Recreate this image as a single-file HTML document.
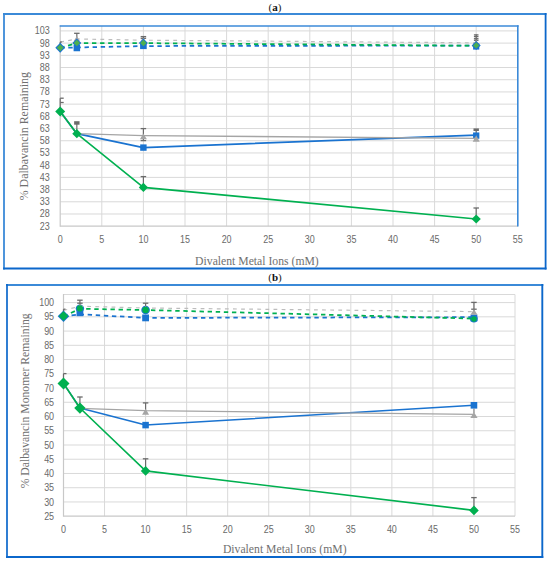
<!DOCTYPE html><html><head><meta charset="utf-8"><title>Dalbavancin chart</title><style>html,body{margin:0;padding:0;background:#fff;width:550px;height:561px;overflow:hidden}svg{display:block}</style></head><body>
<svg width="550" height="561" viewBox="0 0 550 561">
<rect width="550" height="561" fill="#fff"/>
<text x="275" y="10.6" text-anchor="middle" font-family="Liberation Serif" font-weight="bold" font-size="11" fill="#111"><tspan font-weight="normal" fill="#222">(</tspan>a<tspan font-weight="normal" fill="#222">)</tspan></text>
<line x1="3" y1="14" x2="546.5" y2="14" stroke="#3b8ad8" stroke-width="1.8"/>
<line x1="4" y1="13.1" x2="4" y2="269.4" stroke="#3b8ad8" stroke-width="1.8"/>
<line x1="545.6" y1="13.1" x2="545.6" y2="269.4" stroke="#0b67cb" stroke-width="1.8"/>
<line x1="3.1" y1="268.5" x2="546.5" y2="268.5" stroke="#0b67cb" stroke-width="1.8"/>
<line x1="60.2" y1="213.99" x2="517.8" y2="213.99" stroke="#d9d9d9" stroke-width="1"/>
<line x1="60.2" y1="201.79" x2="517.8" y2="201.79" stroke="#d9d9d9" stroke-width="1"/>
<line x1="60.2" y1="189.58" x2="517.8" y2="189.58" stroke="#d9d9d9" stroke-width="1"/>
<line x1="60.2" y1="177.38" x2="517.8" y2="177.38" stroke="#d9d9d9" stroke-width="1"/>
<line x1="60.2" y1="165.17" x2="517.8" y2="165.17" stroke="#d9d9d9" stroke-width="1"/>
<line x1="60.2" y1="152.96" x2="517.8" y2="152.96" stroke="#d9d9d9" stroke-width="1"/>
<line x1="60.2" y1="140.76" x2="517.8" y2="140.76" stroke="#d9d9d9" stroke-width="1"/>
<line x1="60.2" y1="128.55" x2="517.8" y2="128.55" stroke="#d9d9d9" stroke-width="1"/>
<line x1="60.2" y1="116.34" x2="517.8" y2="116.34" stroke="#d9d9d9" stroke-width="1"/>
<line x1="60.2" y1="104.14" x2="517.8" y2="104.14" stroke="#d9d9d9" stroke-width="1"/>
<line x1="60.2" y1="91.93" x2="517.8" y2="91.93" stroke="#d9d9d9" stroke-width="1"/>
<line x1="60.2" y1="79.73" x2="517.8" y2="79.73" stroke="#d9d9d9" stroke-width="1"/>
<line x1="60.2" y1="67.52" x2="517.8" y2="67.52" stroke="#d9d9d9" stroke-width="1"/>
<line x1="60.2" y1="55.31" x2="517.8" y2="55.31" stroke="#d9d9d9" stroke-width="1"/>
<line x1="60.2" y1="43.11" x2="517.8" y2="43.11" stroke="#d9d9d9" stroke-width="1"/>
<line x1="60.2" y1="30.90" x2="517.8" y2="30.90" stroke="#d9d9d9" stroke-width="1"/>
<line x1="101.80" y1="26" x2="101.80" y2="226.2" stroke="#d9d9d9" stroke-width="1"/>
<line x1="143.40" y1="26" x2="143.40" y2="226.2" stroke="#d9d9d9" stroke-width="1"/>
<line x1="185.00" y1="26" x2="185.00" y2="226.2" stroke="#d9d9d9" stroke-width="1"/>
<line x1="226.60" y1="26" x2="226.60" y2="226.2" stroke="#d9d9d9" stroke-width="1"/>
<line x1="268.20" y1="26" x2="268.20" y2="226.2" stroke="#d9d9d9" stroke-width="1"/>
<line x1="309.80" y1="26" x2="309.80" y2="226.2" stroke="#d9d9d9" stroke-width="1"/>
<line x1="351.40" y1="26" x2="351.40" y2="226.2" stroke="#d9d9d9" stroke-width="1"/>
<line x1="393.00" y1="26" x2="393.00" y2="226.2" stroke="#d9d9d9" stroke-width="1"/>
<line x1="434.60" y1="26" x2="434.60" y2="226.2" stroke="#d9d9d9" stroke-width="1"/>
<line x1="476.20" y1="26" x2="476.20" y2="226.2" stroke="#d9d9d9" stroke-width="1"/>
<line x1="60.2" y1="25.5" x2="60.2" y2="226.7" stroke="#c8c8c8" stroke-width="1.2"/>
<line x1="60.2" y1="226.2" x2="517.8" y2="226.2" stroke="#c8c8c8" stroke-width="1.2"/>
<line x1="59.7" y1="26" x2="518.5999999999999" y2="26" stroke="#3b8ad8" stroke-width="1.7"/>
<line x1="517.8" y1="25.2" x2="517.8" y2="226.39999999999998" stroke="#3b8ad8" stroke-width="1.6"/>
<text transform="translate(49.7,229.60) scale(0.87,1)" text-anchor="end" font-family="Liberation Sans" font-size="10.3" fill="#6a6a6a">23</text>
<text transform="translate(49.7,217.39) scale(0.87,1)" text-anchor="end" font-family="Liberation Sans" font-size="10.3" fill="#6a6a6a">28</text>
<text transform="translate(49.7,205.19) scale(0.87,1)" text-anchor="end" font-family="Liberation Sans" font-size="10.3" fill="#6a6a6a">33</text>
<text transform="translate(49.7,192.98) scale(0.87,1)" text-anchor="end" font-family="Liberation Sans" font-size="10.3" fill="#6a6a6a">38</text>
<text transform="translate(49.7,180.78) scale(0.87,1)" text-anchor="end" font-family="Liberation Sans" font-size="10.3" fill="#6a6a6a">43</text>
<text transform="translate(49.7,168.57) scale(0.87,1)" text-anchor="end" font-family="Liberation Sans" font-size="10.3" fill="#6a6a6a">48</text>
<text transform="translate(49.7,156.36) scale(0.87,1)" text-anchor="end" font-family="Liberation Sans" font-size="10.3" fill="#6a6a6a">53</text>
<text transform="translate(49.7,144.16) scale(0.87,1)" text-anchor="end" font-family="Liberation Sans" font-size="10.3" fill="#6a6a6a">58</text>
<text transform="translate(49.7,131.95) scale(0.87,1)" text-anchor="end" font-family="Liberation Sans" font-size="10.3" fill="#6a6a6a">63</text>
<text transform="translate(49.7,119.74) scale(0.87,1)" text-anchor="end" font-family="Liberation Sans" font-size="10.3" fill="#6a6a6a">68</text>
<text transform="translate(49.7,107.54) scale(0.87,1)" text-anchor="end" font-family="Liberation Sans" font-size="10.3" fill="#6a6a6a">73</text>
<text transform="translate(49.7,95.33) scale(0.87,1)" text-anchor="end" font-family="Liberation Sans" font-size="10.3" fill="#6a6a6a">78</text>
<text transform="translate(49.7,83.13) scale(0.87,1)" text-anchor="end" font-family="Liberation Sans" font-size="10.3" fill="#6a6a6a">83</text>
<text transform="translate(49.7,70.92) scale(0.87,1)" text-anchor="end" font-family="Liberation Sans" font-size="10.3" fill="#6a6a6a">88</text>
<text transform="translate(49.7,58.71) scale(0.87,1)" text-anchor="end" font-family="Liberation Sans" font-size="10.3" fill="#6a6a6a">93</text>
<text transform="translate(49.7,46.51) scale(0.87,1)" text-anchor="end" font-family="Liberation Sans" font-size="10.3" fill="#6a6a6a">98</text>
<text transform="translate(49.7,34.30) scale(0.87,1)" text-anchor="end" font-family="Liberation Sans" font-size="10.3" fill="#6a6a6a">103</text>
<text transform="translate(60.20,242.6) scale(0.87,1)" text-anchor="middle" font-family="Liberation Sans" font-size="10.3" fill="#6a6a6a">0</text>
<text transform="translate(101.80,242.6) scale(0.87,1)" text-anchor="middle" font-family="Liberation Sans" font-size="10.3" fill="#6a6a6a">5</text>
<text transform="translate(143.40,242.6) scale(0.87,1)" text-anchor="middle" font-family="Liberation Sans" font-size="10.3" fill="#6a6a6a">10</text>
<text transform="translate(185.00,242.6) scale(0.87,1)" text-anchor="middle" font-family="Liberation Sans" font-size="10.3" fill="#6a6a6a">15</text>
<text transform="translate(226.60,242.6) scale(0.87,1)" text-anchor="middle" font-family="Liberation Sans" font-size="10.3" fill="#6a6a6a">20</text>
<text transform="translate(268.20,242.6) scale(0.87,1)" text-anchor="middle" font-family="Liberation Sans" font-size="10.3" fill="#6a6a6a">25</text>
<text transform="translate(309.80,242.6) scale(0.87,1)" text-anchor="middle" font-family="Liberation Sans" font-size="10.3" fill="#6a6a6a">30</text>
<text transform="translate(351.40,242.6) scale(0.87,1)" text-anchor="middle" font-family="Liberation Sans" font-size="10.3" fill="#6a6a6a">35</text>
<text transform="translate(393.00,242.6) scale(0.87,1)" text-anchor="middle" font-family="Liberation Sans" font-size="10.3" fill="#6a6a6a">40</text>
<text transform="translate(434.60,242.6) scale(0.87,1)" text-anchor="middle" font-family="Liberation Sans" font-size="10.3" fill="#6a6a6a">45</text>
<text transform="translate(476.20,242.6) scale(0.87,1)" text-anchor="middle" font-family="Liberation Sans" font-size="10.3" fill="#6a6a6a">50</text>
<text transform="translate(517.80,242.6) scale(0.87,1)" text-anchor="middle" font-family="Liberation Sans" font-size="10.3" fill="#6a6a6a">55</text>
<text x="195.1" y="264.6" font-family="Liberation Serif" font-size="11.7" fill="#707070">Divalent Metal Ions (mM)</text>
<text transform="translate(27.7,136.2) rotate(-90)" text-anchor="middle" font-family="Liberation Serif" font-size="11.9" fill="#707070">% Dalbavancin Remaining</text>
<polyline points="60.20,47.74 76.84,47.50 143.40,46.04 476.20,45.55" fill="none" stroke="#1a73d0" stroke-width="1.75" stroke-linejoin="round" stroke-dasharray="4.4,3.7"/>
<rect x="73.59" y="44.75" width="6.5" height="6.5" fill="#1a73d0"/>
<rect x="140.10" y="42.50" width="6.6" height="6.6" fill="#1a73d0"/>
<rect x="473.10" y="43.40" width="6.2" height="6.2" fill="#1a73d0"/>
<polyline points="60.20,42.13 76.84,38.96 143.40,40.18 476.20,42.86" fill="none" stroke="#bdbdbd" stroke-width="1.2" stroke-linejoin="round" stroke-dasharray="3.8,4.3"/>
<line x1="60.20" y1="42" x2="60.20" y2="45" stroke="#6b6b6b" stroke-width="1.2"/>
<line x1="60.20" y1="42" x2="61.70" y2="42" stroke="#6b6b6b" stroke-width="1.3"/>
<line x1="76.84" y1="33.3" x2="76.84" y2="40" stroke="#6b6b6b" stroke-width="1.2"/>
<line x1="74.09" y1="33.3" x2="79.59" y2="33.3" stroke="#6b6b6b" stroke-width="1.3"/>
<line x1="143.40" y1="36.6" x2="143.40" y2="41" stroke="#6b6b6b" stroke-width="1.2"/>
<line x1="140.65" y1="36.6" x2="146.15" y2="36.6" stroke="#6b6b6b" stroke-width="1.3"/>
<line x1="140.65" y1="38.3" x2="146.15" y2="38.3" stroke="#6b6b6b" stroke-width="1.3"/>
<line x1="476.20" y1="34.5" x2="476.20" y2="42" stroke="#6b6b6b" stroke-width="1.2"/>
<line x1="473.90" y1="34.9" x2="478.50" y2="34.9" stroke="#6b6b6b" stroke-width="1.3"/>
<line x1="473.90" y1="36.6" x2="478.50" y2="36.6" stroke="#6b6b6b" stroke-width="1.3"/>
<line x1="473.90" y1="38.7" x2="478.50" y2="38.7" stroke="#6b6b6b" stroke-width="1.3"/>
<line x1="473.90" y1="40.3" x2="478.50" y2="40.3" stroke="#6b6b6b" stroke-width="1.3"/>
<polygon points="76.84,36.00 79.84,41.00 73.84,41.00" fill="#a5a5a5"/>
<polygon points="143.40,38.00 146.40,43.00 140.40,43.00" fill="#a5a5a5"/>
<polygon points="476.20,40.00 479.20,45.00 473.20,45.00" fill="#a5a5a5"/>
<polyline points="60.20,47.74 76.84,43.11 143.40,43.11 476.20,45.79" fill="none" stroke="#00b050" stroke-width="1.75" stroke-linejoin="round" stroke-dasharray="4.4,3.7"/>
<polygon points="60.20,42.84 65.10,47.74 60.20,52.64 55.30,47.74" fill="#1a73d0"/>
<polygon points="60.20,44.34 63.60,47.74 60.20,51.14 56.80,47.74" fill="#4caf50"/>
<polygon points="76.84,38.50 81.34,43.00 76.84,47.50 72.34,43.00" fill="#1a73d0"/>
<polygon points="76.84,39.80 80.04,43.00 76.84,46.20 73.64,43.00" fill="#4caf50"/>
<polygon points="143.40,38.50 147.90,43.00 143.40,47.50 138.90,43.00" fill="#1a73d0"/>
<polygon points="143.40,39.80 146.60,43.00 143.40,46.20 140.20,43.00" fill="#4caf50"/>
<polygon points="476.20,40.90 480.70,45.40 476.20,49.90 471.70,45.40" fill="#1a73d0"/>
<polygon points="476.20,42.20 479.40,45.40 476.20,48.60 473.00,45.40" fill="#4caf50"/>
<polyline points="60.20,111.46 76.84,133.68 143.40,147.59 476.20,135.14" fill="none" stroke="#1a73d0" stroke-width="1.7" stroke-linejoin="round"/>
<rect x="473.50" y="128.4" width="5.4" height="2.6" fill="#6b6b6b"/>
<line x1="476.20" y1="129" x2="476.20" y2="133" stroke="#6b6b6b" stroke-width="1.2"/>
<rect x="140.20" y="144.39" width="6.4" height="6.4" fill="#1a73d0"/>
<rect x="473.05" y="132.45" width="6.3" height="6.3" fill="#1a73d0"/>
<polyline points="60.20,111.46 76.84,133.60 143.40,135.60 476.20,138.30" fill="none" stroke="#a5a5a5" stroke-width="1.3" stroke-linejoin="round"/>
<rect x="74.14" y="121.2" width="5.4" height="3.5" fill="#6b6b6b"/>
<line x1="76.84" y1="122" x2="76.84" y2="131" stroke="#6b6b6b" stroke-width="1.2"/>
<line x1="143.40" y1="128.6" x2="143.40" y2="140.6" stroke="#6b6b6b" stroke-width="1.2"/>
<line x1="140.65" y1="128.6" x2="146.15" y2="128.6" stroke="#6b6b6b" stroke-width="1.3"/>
<line x1="140.65" y1="140.6" x2="146.15" y2="140.6" stroke="#6b6b6b" stroke-width="1.3"/>
<polygon points="143.40,133.40 146.90,139.20 139.90,139.20" fill="#a5a5a5"/>
<polygon points="476.20,135.30 479.70,141.70 472.70,141.70" fill="#a5a5a5"/>
<polyline points="60.20,111.46 76.84,133.68 143.40,187.38 476.20,219.00" fill="none" stroke="#00b050" stroke-width="1.6" stroke-linejoin="round"/>
<line x1="60.20" y1="98.2" x2="60.20" y2="108" stroke="#6b6b6b" stroke-width="1.2"/>
<line x1="60.20" y1="98.2" x2="63.70" y2="98.2" stroke="#6b6b6b" stroke-width="1.3"/>
<line x1="60.20" y1="102.5" x2="63.70" y2="102.5" stroke="#6b6b6b" stroke-width="1.3"/>
<line x1="143.40" y1="176.6" x2="143.40" y2="184" stroke="#6b6b6b" stroke-width="1.2"/>
<line x1="140.65" y1="176.6" x2="146.15" y2="176.6" stroke="#6b6b6b" stroke-width="1.3"/>
<line x1="476.20" y1="208" x2="476.20" y2="216" stroke="#6b6b6b" stroke-width="1.2"/>
<line x1="473.45" y1="208" x2="478.95" y2="208" stroke="#6b6b6b" stroke-width="1.3"/>
<polygon points="60.20,106.46 65.20,111.46 60.20,116.46 55.20,111.46" fill="#00b050"/>
<polygon points="76.84,129.08 81.44,133.68 76.84,138.28 72.24,133.68" fill="#00b050"/>
<polygon points="143.40,182.78 148.00,187.38 143.40,191.98 138.80,187.38" fill="#00b050"/>
<polygon points="476.20,214.40 480.80,219.00 476.20,223.60 471.60,219.00" fill="#00b050"/>
<text x="275" y="280.9" text-anchor="middle" font-family="Liberation Serif" font-weight="bold" font-size="11" fill="#111"><tspan font-weight="normal" fill="#222">(</tspan>b<tspan font-weight="normal" fill="#222">)</tspan></text>
<line x1="6.1" y1="285" x2="543.3" y2="285" stroke="#3b8ad8" stroke-width="1.8"/>
<line x1="7" y1="284.1" x2="7" y2="557.9" stroke="#0b67cb" stroke-width="1.7"/>
<line x1="542.3" y1="284.1" x2="542.3" y2="557.9" stroke="#0b67cb" stroke-width="1.9"/>
<line x1="6.1" y1="557" x2="543.3" y2="557" stroke="#0b67cb" stroke-width="1.8"/>
<line x1="63.5" y1="501.96" x2="515.0" y2="501.96" stroke="#d9d9d9" stroke-width="1"/>
<line x1="63.5" y1="487.72" x2="515.0" y2="487.72" stroke="#d9d9d9" stroke-width="1"/>
<line x1="63.5" y1="473.48" x2="515.0" y2="473.48" stroke="#d9d9d9" stroke-width="1"/>
<line x1="63.5" y1="459.24" x2="515.0" y2="459.24" stroke="#d9d9d9" stroke-width="1"/>
<line x1="63.5" y1="445.00" x2="515.0" y2="445.00" stroke="#d9d9d9" stroke-width="1"/>
<line x1="63.5" y1="430.76" x2="515.0" y2="430.76" stroke="#d9d9d9" stroke-width="1"/>
<line x1="63.5" y1="416.52" x2="515.0" y2="416.52" stroke="#d9d9d9" stroke-width="1"/>
<line x1="63.5" y1="402.28" x2="515.0" y2="402.28" stroke="#d9d9d9" stroke-width="1"/>
<line x1="63.5" y1="388.04" x2="515.0" y2="388.04" stroke="#d9d9d9" stroke-width="1"/>
<line x1="63.5" y1="373.80" x2="515.0" y2="373.80" stroke="#d9d9d9" stroke-width="1"/>
<line x1="63.5" y1="359.56" x2="515.0" y2="359.56" stroke="#d9d9d9" stroke-width="1"/>
<line x1="63.5" y1="345.32" x2="515.0" y2="345.32" stroke="#d9d9d9" stroke-width="1"/>
<line x1="63.5" y1="331.08" x2="515.0" y2="331.08" stroke="#d9d9d9" stroke-width="1"/>
<line x1="63.5" y1="316.84" x2="515.0" y2="316.84" stroke="#d9d9d9" stroke-width="1"/>
<line x1="63.5" y1="302.60" x2="515.0" y2="302.60" stroke="#d9d9d9" stroke-width="1"/>
<line x1="63.5" y1="294.5" x2="515.0" y2="294.5" stroke="#d9d9d9" stroke-width="1"/>
<line x1="104.55" y1="294.5" x2="104.55" y2="516.2" stroke="#d9d9d9" stroke-width="1"/>
<line x1="145.59" y1="294.5" x2="145.59" y2="516.2" stroke="#d9d9d9" stroke-width="1"/>
<line x1="186.64" y1="294.5" x2="186.64" y2="516.2" stroke="#d9d9d9" stroke-width="1"/>
<line x1="227.68" y1="294.5" x2="227.68" y2="516.2" stroke="#d9d9d9" stroke-width="1"/>
<line x1="268.73" y1="294.5" x2="268.73" y2="516.2" stroke="#d9d9d9" stroke-width="1"/>
<line x1="309.77" y1="294.5" x2="309.77" y2="516.2" stroke="#d9d9d9" stroke-width="1"/>
<line x1="350.82" y1="294.5" x2="350.82" y2="516.2" stroke="#d9d9d9" stroke-width="1"/>
<line x1="391.86" y1="294.5" x2="391.86" y2="516.2" stroke="#d9d9d9" stroke-width="1"/>
<line x1="432.91" y1="294.5" x2="432.91" y2="516.2" stroke="#d9d9d9" stroke-width="1"/>
<line x1="473.95" y1="294.5" x2="473.95" y2="516.2" stroke="#d9d9d9" stroke-width="1"/>
<line x1="515.00" y1="294.5" x2="515.00" y2="516.2" stroke="#d9d9d9" stroke-width="1"/>
<line x1="63.5" y1="294" x2="63.5" y2="516.7" stroke="#c8c8c8" stroke-width="1.2"/>
<line x1="63.5" y1="516.2" x2="515.0" y2="516.2" stroke="#c8c8c8" stroke-width="1.2"/>
<text transform="translate(54.1,519.80) scale(0.87,1)" text-anchor="end" font-family="Liberation Sans" font-size="10.3" fill="#6a6a6a">25</text>
<text transform="translate(54.1,505.56) scale(0.87,1)" text-anchor="end" font-family="Liberation Sans" font-size="10.3" fill="#6a6a6a">30</text>
<text transform="translate(54.1,491.32) scale(0.87,1)" text-anchor="end" font-family="Liberation Sans" font-size="10.3" fill="#6a6a6a">35</text>
<text transform="translate(54.1,477.08) scale(0.87,1)" text-anchor="end" font-family="Liberation Sans" font-size="10.3" fill="#6a6a6a">40</text>
<text transform="translate(54.1,462.84) scale(0.87,1)" text-anchor="end" font-family="Liberation Sans" font-size="10.3" fill="#6a6a6a">45</text>
<text transform="translate(54.1,448.60) scale(0.87,1)" text-anchor="end" font-family="Liberation Sans" font-size="10.3" fill="#6a6a6a">50</text>
<text transform="translate(54.1,434.36) scale(0.87,1)" text-anchor="end" font-family="Liberation Sans" font-size="10.3" fill="#6a6a6a">55</text>
<text transform="translate(54.1,420.12) scale(0.87,1)" text-anchor="end" font-family="Liberation Sans" font-size="10.3" fill="#6a6a6a">60</text>
<text transform="translate(54.1,405.88) scale(0.87,1)" text-anchor="end" font-family="Liberation Sans" font-size="10.3" fill="#6a6a6a">65</text>
<text transform="translate(54.1,391.64) scale(0.87,1)" text-anchor="end" font-family="Liberation Sans" font-size="10.3" fill="#6a6a6a">70</text>
<text transform="translate(54.1,377.40) scale(0.87,1)" text-anchor="end" font-family="Liberation Sans" font-size="10.3" fill="#6a6a6a">75</text>
<text transform="translate(54.1,363.16) scale(0.87,1)" text-anchor="end" font-family="Liberation Sans" font-size="10.3" fill="#6a6a6a">80</text>
<text transform="translate(54.1,348.92) scale(0.87,1)" text-anchor="end" font-family="Liberation Sans" font-size="10.3" fill="#6a6a6a">85</text>
<text transform="translate(54.1,334.68) scale(0.87,1)" text-anchor="end" font-family="Liberation Sans" font-size="10.3" fill="#6a6a6a">90</text>
<text transform="translate(54.1,320.44) scale(0.87,1)" text-anchor="end" font-family="Liberation Sans" font-size="10.3" fill="#6a6a6a">95</text>
<text transform="translate(54.1,306.20) scale(0.87,1)" text-anchor="end" font-family="Liberation Sans" font-size="10.3" fill="#6a6a6a">100</text>
<text transform="translate(63.50,533.1) scale(0.87,1)" text-anchor="middle" font-family="Liberation Sans" font-size="10.3" fill="#6a6a6a">0</text>
<text transform="translate(104.55,533.1) scale(0.87,1)" text-anchor="middle" font-family="Liberation Sans" font-size="10.3" fill="#6a6a6a">5</text>
<text transform="translate(145.59,533.1) scale(0.87,1)" text-anchor="middle" font-family="Liberation Sans" font-size="10.3" fill="#6a6a6a">10</text>
<text transform="translate(186.64,533.1) scale(0.87,1)" text-anchor="middle" font-family="Liberation Sans" font-size="10.3" fill="#6a6a6a">15</text>
<text transform="translate(227.68,533.1) scale(0.87,1)" text-anchor="middle" font-family="Liberation Sans" font-size="10.3" fill="#6a6a6a">20</text>
<text transform="translate(268.73,533.1) scale(0.87,1)" text-anchor="middle" font-family="Liberation Sans" font-size="10.3" fill="#6a6a6a">25</text>
<text transform="translate(309.77,533.1) scale(0.87,1)" text-anchor="middle" font-family="Liberation Sans" font-size="10.3" fill="#6a6a6a">30</text>
<text transform="translate(350.82,533.1) scale(0.87,1)" text-anchor="middle" font-family="Liberation Sans" font-size="10.3" fill="#6a6a6a">35</text>
<text transform="translate(391.86,533.1) scale(0.87,1)" text-anchor="middle" font-family="Liberation Sans" font-size="10.3" fill="#6a6a6a">40</text>
<text transform="translate(432.91,533.1) scale(0.87,1)" text-anchor="middle" font-family="Liberation Sans" font-size="10.3" fill="#6a6a6a">45</text>
<text transform="translate(473.95,533.1) scale(0.87,1)" text-anchor="middle" font-family="Liberation Sans" font-size="10.3" fill="#6a6a6a">50</text>
<text transform="translate(515.00,533.1) scale(0.87,1)" text-anchor="middle" font-family="Liberation Sans" font-size="10.3" fill="#6a6a6a">55</text>
<text x="222.9" y="552.6" font-family="Liberation Serif" font-size="11.7" fill="#707070">Divalent Metal Ions (mM)</text>
<text transform="translate(28.9,400.9) rotate(-90)" text-anchor="middle" font-family="Liberation Serif" font-size="11.7" fill="#707070">% Dalbavancin Monomer Remaining</text>
<polyline points="63.50,316.30 79.92,314.30 145.59,317.90 473.95,317.20" fill="none" stroke="#1a73d0" stroke-width="1.75" stroke-linejoin="round" stroke-dasharray="4.4,3.7"/>
<rect x="76.52" y="309.40" width="6.8" height="6.8" fill="#1a73d0"/>
<circle cx="79.92" cy="308.60" r="4.2" fill="#1a73d0"/>
<rect x="142.19" y="314.50" width="6.8" height="6.8" fill="#1a73d0"/>
<circle cx="145.59" cy="310.00" r="4.3" fill="#1a73d0"/>
<rect x="470.55" y="314.60" width="6.8" height="6.8" fill="#1a73d0"/>
<circle cx="473.95" cy="318.80" r="3.8" fill="#1a73d0"/>
<polyline points="63.50,310.50 79.92,306.20 145.59,308.00 473.95,311.60" fill="none" stroke="#bdbdbd" stroke-width="1.2" stroke-linejoin="round" stroke-dasharray="3.8,4.3"/>
<line x1="63.50" y1="309.2" x2="63.50" y2="312" stroke="#6b6b6b" stroke-width="1.2"/>
<line x1="63.50" y1="309.2" x2="65.50" y2="309.2" stroke="#6b6b6b" stroke-width="1.3"/>
<line x1="79.92" y1="300.2" x2="79.92" y2="306" stroke="#6b6b6b" stroke-width="1.2"/>
<line x1="77.17" y1="300.2" x2="82.67" y2="300.2" stroke="#6b6b6b" stroke-width="1.3"/>
<line x1="77.17" y1="303.2" x2="82.67" y2="303.2" stroke="#6b6b6b" stroke-width="1.3"/>
<line x1="145.59" y1="303.2" x2="145.59" y2="307" stroke="#6b6b6b" stroke-width="1.2"/>
<line x1="142.84" y1="303.2" x2="148.34" y2="303.2" stroke="#6b6b6b" stroke-width="1.3"/>
<line x1="473.95" y1="302.4" x2="473.95" y2="311" stroke="#6b6b6b" stroke-width="1.2"/>
<line x1="471.20" y1="302.4" x2="476.70" y2="302.4" stroke="#6b6b6b" stroke-width="1.3"/>
<line x1="471.20" y1="309.2" x2="476.70" y2="309.2" stroke="#6b6b6b" stroke-width="1.3"/>
<polygon points="79.92,303.75 83.17,309.25 76.67,309.25" fill="#a5a5a5"/>
<polygon points="145.59,305.75 148.84,311.25 142.34,311.25" fill="#a5a5a5"/>
<polygon points="473.95,309.25 477.45,314.75 470.45,314.75" fill="#a5a5a5"/>
<polyline points="63.50,316.30 79.92,308.80 145.59,310.00 473.95,318.60" fill="none" stroke="#00b050" stroke-width="1.75" stroke-linejoin="round" stroke-dasharray="4.4,3.7"/>
<polygon points="63.50,310.50 69.30,316.30 63.50,322.10 57.70,316.30" fill="#1a73d0"/>
<polygon points="63.50,311.30 68.20,316.00 63.50,320.70 58.80,316.00" fill="#00b050"/>
<circle cx="79.92" cy="308.40" r="3.1" fill="#00b050"/>
<circle cx="145.59" cy="310.00" r="3.2" fill="#00b050"/>
<circle cx="473.95" cy="319.00" r="2.7" fill="#00b050"/>
<polyline points="63.50,383.40 79.92,408.00 145.59,425.10 473.95,405.30" fill="none" stroke="#1a73d0" stroke-width="1.5" stroke-linejoin="round"/>
<rect x="142.34" y="421.85" width="6.5" height="6.5" fill="#1a73d0"/>
<rect x="470.65" y="402.00" width="6.6" height="6.6" fill="#1a73d0"/>
<polyline points="63.50,383.40 79.92,408.30 145.59,410.70 473.95,414.30" fill="none" stroke="#a5a5a5" stroke-width="1.3" stroke-linejoin="round"/>
<line x1="79.92" y1="397.0" x2="79.92" y2="404" stroke="#6b6b6b" stroke-width="1.2"/>
<line x1="77.17" y1="397.0" x2="82.67" y2="397.0" stroke="#6b6b6b" stroke-width="1.3"/>
<line x1="145.59" y1="402.9" x2="145.59" y2="410" stroke="#6b6b6b" stroke-width="1.2"/>
<line x1="142.84" y1="402.9" x2="148.34" y2="402.9" stroke="#6b6b6b" stroke-width="1.3"/>
<line x1="473.95" y1="408.7" x2="473.95" y2="413" stroke="#8a8a8a" stroke-width="1.2"/>
<polygon points="145.59,408.80 149.09,414.80 142.09,414.80" fill="#a5a5a5"/>
<polygon points="473.95,411.90 477.55,417.90 470.35,417.90" fill="#a5a5a5"/>
<polyline points="63.50,383.40 79.92,408.00 145.59,470.90 473.95,510.40" fill="none" stroke="#00b050" stroke-width="1.6" stroke-linejoin="round"/>
<line x1="63.50" y1="373.6" x2="63.50" y2="379" stroke="#6b6b6b" stroke-width="1.2"/>
<line x1="63.50" y1="373.6" x2="66.50" y2="373.6" stroke="#6b6b6b" stroke-width="1.3"/>
<line x1="145.59" y1="458.8" x2="145.59" y2="467" stroke="#6b6b6b" stroke-width="1.2"/>
<line x1="142.84" y1="458.8" x2="148.34" y2="458.8" stroke="#6b6b6b" stroke-width="1.3"/>
<line x1="473.95" y1="497.6" x2="473.95" y2="507" stroke="#6b6b6b" stroke-width="1.2"/>
<line x1="471.20" y1="497.6" x2="476.70" y2="497.6" stroke="#6b6b6b" stroke-width="1.3"/>
<polygon points="63.50,377.40 69.50,383.40 63.50,389.40 57.50,383.40" fill="#00b050"/>
<polygon points="79.92,402.40 85.62,408.10 79.92,413.80 74.22,408.10" fill="#00b050"/>
<polygon points="145.59,466.10 150.39,470.90 145.59,475.70 140.79,470.90" fill="#00b050"/>
<polygon points="473.95,505.60 478.75,510.40 473.95,515.20 469.15,510.40" fill="#00b050"/>
</svg></body></html>
